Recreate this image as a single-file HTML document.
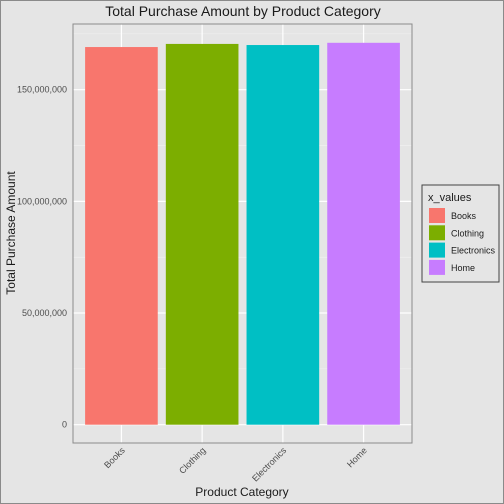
<!DOCTYPE html>
<html><head><meta charset="utf-8"><style>
html,body{margin:0;padding:0;background:#e5e5e5;font-family:"Liberation Sans",sans-serif;overflow:hidden;}
svg{display:block;}
</style></head><body>
<svg id="c" width="504" height="504" xmlns="http://www.w3.org/2000/svg">
<rect x="0.5" y="0.5" width="503" height="503" fill="#e5e5e5" stroke="#8a8a8a"/>
<text x="243" y="16" text-anchor="middle" font-size="14" fill="#1a1a1a">Total Purchase Amount by Product Category</text>
<g id="grid"></g><g id="bars"></g><g id="axes"></g>
<rect x="73" y="24" width="339" height="419" fill="none" stroke="#8a8a8a"/>
<text x="242" y="496" text-anchor="middle" font-size="12" fill="#1a1a1a">Product Category</text>
<text transform="translate(15,233) rotate(-90)" text-anchor="middle" font-size="12" fill="#1a1a1a">Total Purchase Amount</text>
<g id="legend">
<rect x="422" y="185" width="77" height="97" fill="#e5e5e5" stroke="#444"/>
<text x="428" y="201" font-size="11" fill="#1a1a1a">x_values</text>
</g>
</svg>
<script>
const categories=["Books","Clothing","Electronics","Home"];
const values=[169100000,170500000,170000000,171000000];
const colors=["#F8766D","#7CAE00","#00BFC4","#C77CFF"];
const yTicks=[0,50000000,100000000,150000000];
const yTickLabels=["0","50,000,000","100,000,000","150,000,000"];
const NS="http://www.w3.org/2000/svg";
const px0=73,px1=412,py0=24,py1=443;
const y=v=>424.7-v*(335/150000000);
const step=(px1-px0)/(categories.length+0.2);
const x=i=>px0+step*(0.6+i);
function mk(t,a,p){const e=document.createElementNS(NS,t);for(const k in a)e.setAttribute(k,a[k]);p.appendChild(e);return e;}
const g=document.getElementById('grid'),b=document.getElementById('bars'),ax=document.getElementById('axes'),lg=document.getElementById('legend');
const minor=[25000000,75000000,125000000,175000000];
minor.forEach(v=>{if(y(v)>py0){const l=mk('line',{x1:px0,x2:px1,y1:y(v),y2:y(v),stroke:'#f2f2f2','stroke-width':0.6},g);

}});
yTicks.forEach((v,i)=>{const l=mk('line',{x1:px0,x2:px1,y1:y(v),y2:y(v),stroke:'#fff','stroke-width':1.2},g);


const t=mk('text',{x:67,y:y(v)+3,'text-anchor':'end','font-size':9,fill:'#4d4d4d'},ax);t.textContent=yTickLabels[i];

});
categories.forEach((c,i)=>{const cx=x(i);
const l=mk('line',{x1:cx,x2:cx,y1:py0,y2:py1,stroke:'#fff','stroke-width':1.2},g);


const w=step*0.9;
const r=mk('rect',{x:cx-w/2,y:y(values[i]),width:w,height:y(0)-y(values[i]),fill:colors[i]},b);


const t=mk('text',{transform:`translate(${cx+4},${py1+8}) rotate(-45)`,'text-anchor':'end','font-size':9,fill:'#4d4d4d'},ax);t.textContent=c;


const k=mk('rect',{x:429,y:208+i*17.3,width:16,height:15,fill:colors[i]},lg);


const lt=mk('text',{x:451,y:219+i*17.3,'font-size':9,fill:'#1a1a1a'},lg);lt.textContent=c;

});
</script>
</body></html>
